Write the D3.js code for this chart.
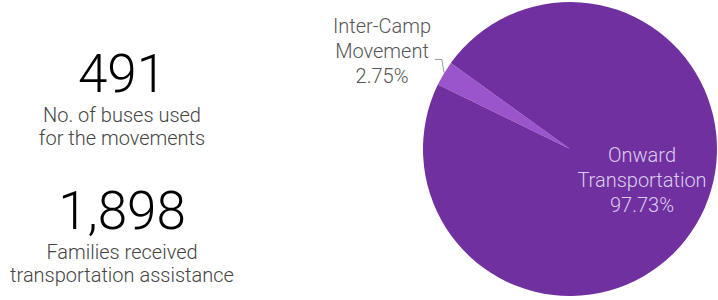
<!DOCTYPE html>
<html lang="en">
<head>
    <style>
        body { margin: 0; background: #fff; }
        text { font-family: "Helvetica Neue", Roboto, "Liberation Sans", sans-serif; font-weight: 300; }
    </style>
    <script src="https://d3js.org/d3.v7.min.js"></script>
</head>
<body>
    <svg width="718" height="300"></svg>
    <script>
        // data
        var categories = ["Inter-Camp Movement", "Onward Transportation"];
        var shares = [2.75, 97.73];
        var shareLabels = ["2.75%", "97.73%"];
        var kpiValues = ["491", "1,898"];
        var kpiLabels = [
            ["No. of buses used", "for the movements"],
            ["Families received", "transportation assistance"]
        ];

        var svg = d3.select("svg");
        var colors = d3.scaleOrdinal().domain(categories).range(["#9a55cc", "#7030a0"]);

        // left side figures
        var kpi = svg.append("g").attr("transform", "translate(122,0)");
        var kpiTop = [92, 229];
        kpiValues.forEach(function(v, i) {
            kpi.append("text")
                .attr("y", kpiTop[i])
                .attr("text-anchor", "middle")
                .attr("font-size", "53px")
                .attr("fill", "#000")
                .text(v);
            kpi.selectAll(null)
                .data(kpiLabels[i])
                .enter().append("text")
                .attr("y", function(d, j) { return kpiTop[i] + 30 + j * 22.5; })
                .attr("text-anchor", "middle")
                .attr("font-size", "20px")
                .attr("fill", "#444")
                .text(function(d) { return d; });
        });

        // pie
        var cx = 570, cy = 149, r = 147;
        var g = svg.append("g").attr("transform", "translate(" + cx + "," + cy + ")");

        var pie = d3.pie()
            .sort(null)
            .value(function(d) { return d; })
            .startAngle(296 * Math.PI / 180)
            .endAngle(296 * Math.PI / 180 + 2 * Math.PI);

        var arc = d3.arc().innerRadius(0).outerRadius(r);
        var arcs = pie(shares);

        g.selectAll("path")
            .data(arcs)
            .enter().append("path")
            .attr("d", arc)
            .attr("fill", function(d, i) { return colors(categories[i]); });

        // outside label for small slice
        var small = arcs[0];
        var mid = (small.startAngle + small.endAngle) / 2;
        var edge = [Math.sin(mid) * r, -Math.cos(mid) * r];
        g.append("polyline")
            .attr("points", [[edge[0], edge[1] - 1], [edge[0] - 2, edge[1] - 14], [edge[0] - 9, edge[1] - 14]].join(" "))
            .attr("fill", "none")
            .attr("stroke", "#999")
            .attr("stroke-width", 1);

        var outerLines = ["Inter-Camp", "Movement", shareLabels[0]];
        svg.selectAll(".lbl-out")
            .data(outerLines)
            .enter().append("text")
            .attr("class", "lbl-out")
            .attr("x", 382)
            .attr("y", function(d, i) { return 33 + i * 25; })
            .attr("text-anchor", "middle")
            .attr("font-size", "20px")
            .attr("fill", "#555")
            .text(function(d) { return d; });

        var innerLines = ["Onward", "Transportation", shareLabels[1]];
        svg.selectAll(".lbl-in")
            .data(innerLines)
            .enter().append("text")
            .attr("class", "lbl-in")
            .attr("x", 642)
            .attr("y", function(d, i) { return 162 + i * 25; })
            .attr("text-anchor", "middle")
            .attr("font-size", "20px")
            .attr("fill", "#dccdef")
            .text(function(d) { return d; });
    </script>
</body>
</html>
